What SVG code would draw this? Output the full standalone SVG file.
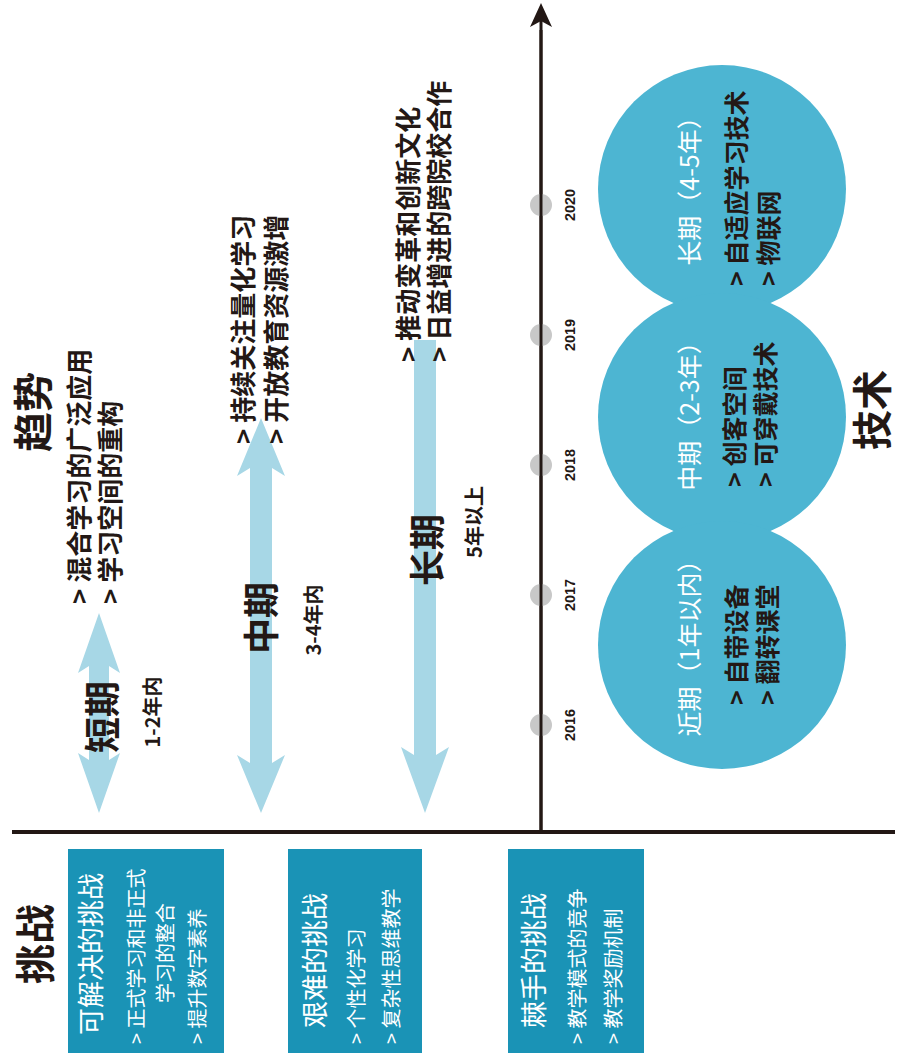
<svg xmlns="http://www.w3.org/2000/svg" width="900" height="1061" viewBox="0 0 900 1061">
<style>
.t{font-family:"Noto Sans CJK SC","Noto Sans",sans-serif;dominant-baseline:central;fill:#231815}
.title{font-size:40px;font-weight:bold}
.trend{font-size:26px;font-weight:bold}
.term{font-size:36px;font-weight:bold}
.span{font-size:20px;font-weight:bold}
.head{font-size:25px;fill:#ffffff}
.bul{font-size:25px;font-weight:bold}
.btitle{font-size:27px;fill:#ffffff}
.bb{font-size:20px;fill:#ffffff}
.yr{font-family:"Liberation Sans",Arial,sans-serif;font-size:15px;font-weight:bold;dominant-baseline:central;fill:#231815}
.arrow{fill:#a7d7e6}
.circle{fill:#4db5d2}
.box{fill:#1a93b6}
.dot{fill:#c8c8c8}
</style>
<rect width="900" height="1061" fill="#ffffff"/>

<g id="connectors">
  <line x1="12" y1="832" x2="895" y2="832" stroke="#231815" stroke-width="4"/>
  <line x1="541" y1="832" x2="541" y2="20" stroke="#231815" stroke-width="3"/>
  <path d="M541,3 L552,27 L541,21 L530,27 Z" fill="#231815"/>
</g>

<g id="trends-title"><text class="t title" x="31" y="412" transform="rotate(-90 31 412)" text-anchor="middle">趋势</text></g>

<g id="trend-short">
  <path class="arrow" d="M99,613 L120,673 L109,666 L109,760 L120,753 L99,813 L78,753 L89,760 L89,666 L78,673 Z"/>
  <text class="t trend" x="77" y="604" transform="rotate(-90 77 604)">&gt; 混合学习的广泛应用</text>
  <text class="t trend" x="108" y="604" transform="rotate(-90 108 604)">&gt; 学习空间的重构</text>
  <text class="t term" x="100" y="717" transform="rotate(-90 100 717)" text-anchor="middle">短期</text>
  <text class="t span" x="151" y="712" transform="rotate(-90 151 712)" text-anchor="middle">1-2年内</text>
</g>

<g id="trend-mid">
  <path class="arrow" d="M261,418 L285,476 L272,468 L272,763 L285,755 L261,813 L237,755 L250,763 L250,468 L237,476 Z"/>
  <text class="t trend" x="241" y="444" transform="rotate(-90 241 444)">&gt; 持续关注量化学习</text>
  <text class="t trend" x="274" y="444" transform="rotate(-90 274 444)">&gt; 开放教育资源激增</text>
  <text class="t term" x="259" y="618" transform="rotate(-90 259 618)" text-anchor="middle">中期</text>
  <text class="t span" x="312" y="620" transform="rotate(-90 312 620)" text-anchor="middle">3-4年内</text>
</g>

<g id="trend-long">
  <path class="arrow" d="M414,340 L436,340 L436,755 L449,747 L425,813 L401,747 L414,755 Z"/>
  <text class="t trend" x="406" y="362" transform="rotate(-90 406 362)">&gt; 推动变革和创新文化</text>
  <text class="t trend" x="437" y="362" transform="rotate(-90 437 362)">&gt; 日益增进的跨院校合作</text>
  <text class="t term" x="425" y="550" transform="rotate(-90 425 550)" text-anchor="middle">长期</text>
  <text class="t span" x="473" y="522" transform="rotate(-90 473 522)" text-anchor="middle">5年以上</text>
</g>

<g id="timeline">
  <circle class="dot" cx="541" cy="205" r="11"/>
  <circle class="dot" cx="541" cy="335" r="11"/>
  <circle class="dot" cx="541" cy="465" r="11"/>
  <circle class="dot" cx="541" cy="595" r="11"/>
  <circle class="dot" cx="541" cy="725" r="11"/>
  <line x1="541" y1="30" x2="541" y2="830" stroke="#231815" stroke-width="3"/>
  <text class="yr" x="569" y="205" transform="rotate(-90 569 205)" text-anchor="middle" textLength="32" lengthAdjust="spacingAndGlyphs">2020</text>
  <text class="yr" x="569" y="335" transform="rotate(-90 569 335)" text-anchor="middle" textLength="32" lengthAdjust="spacingAndGlyphs">2019</text>
  <text class="yr" x="569" y="465" transform="rotate(-90 569 465)" text-anchor="middle" textLength="32" lengthAdjust="spacingAndGlyphs">2018</text>
  <text class="yr" x="569" y="595" transform="rotate(-90 569 595)" text-anchor="middle" textLength="32" lengthAdjust="spacingAndGlyphs">2017</text>
  <text class="yr" x="569" y="725" transform="rotate(-90 569 725)" text-anchor="middle" textLength="32" lengthAdjust="spacingAndGlyphs">2016</text>
</g>

<g id="tech-circles">
  <circle class="circle" cx="722" cy="189" r="124"/>
  <circle class="circle" cx="722" cy="417" r="124"/>
  <circle class="circle" cx="722" cy="645" r="124"/>
</g>

<g id="tech-long">
  <text class="t head" x="688" y="185" transform="rotate(-90 688 185)" text-anchor="middle">长期（4-5年）</text>
  <text class="t bul" x="735" y="286" transform="rotate(-90 735 286)">&gt; 自适应学习技术</text>
  <text class="t bul" x="767" y="286" transform="rotate(-90 767 286)">&gt; 物联网</text>
</g>
<g id="tech-mid">
  <text class="t head" x="688" y="410" transform="rotate(-90 688 410)" text-anchor="middle">中期（2-3年）</text>
  <text class="t bul" x="733" y="487" transform="rotate(-90 733 487)">&gt; 创客空间</text>
  <text class="t bul" x="764" y="487" transform="rotate(-90 764 487)">&gt; 可穿戴技术</text>
</g>
<g id="tech-near">
  <text class="t head" x="688" y="642" transform="rotate(-90 688 642)" text-anchor="middle">近期（1年以内）</text>
  <text class="t bul" x="735" y="705" transform="rotate(-90 735 705)">&gt; 自带设备</text>
  <text class="t bul" x="766" y="705" transform="rotate(-90 766 705)">&gt; 翻转课堂</text>
</g>

<g id="tech-title"><text class="t title" x="870" y="410" transform="rotate(-90 870 410)" text-anchor="middle">技术</text></g>

<g id="challenges-title"><text class="t title" x="33" y="944" transform="rotate(-90 33 944)" text-anchor="middle">挑战</text></g>

<g id="challenge-solvable">
  <rect class="box" x="68" y="849" width="156" height="204"/>
  <text class="t btitle" x="89" y="1035" transform="rotate(-90 89 1035)">可解决的挑战</text>
  <text class="t bb" x="135" y="1044" transform="rotate(-90 135 1044)">&gt; 正式学习和非正式</text>
  <text class="t bb" x="164" y="953" transform="rotate(-90 164 953)" text-anchor="middle">学习的整合</text>
  <text class="t bb" x="196" y="1044" transform="rotate(-90 196 1044)">&gt; 提升数字素养</text>
</g>

<g id="challenge-difficult">
  <rect class="box" x="288" y="849" width="134" height="204"/>
  <text class="t btitle" x="313" y="1028" transform="rotate(-90 313 1028)">艰难的挑战</text>
  <text class="t bb" x="355" y="1044" transform="rotate(-90 355 1044)">&gt; 个性化学习</text>
  <text class="t bb" x="390" y="1044" transform="rotate(-90 390 1044)">&gt; 复杂性思维教学</text>
</g>

<g id="challenge-wicked">
  <rect class="box" x="508" y="849" width="136" height="204"/>
  <text class="t btitle" x="532" y="1028" transform="rotate(-90 532 1028)">棘手的挑战</text>
  <text class="t bb" x="576" y="1044" transform="rotate(-90 576 1044)">&gt; 教学模式的竞争</text>
  <text class="t bb" x="612" y="1044" transform="rotate(-90 612 1044)">&gt; 教学奖励机制</text>
</g>
</svg>
